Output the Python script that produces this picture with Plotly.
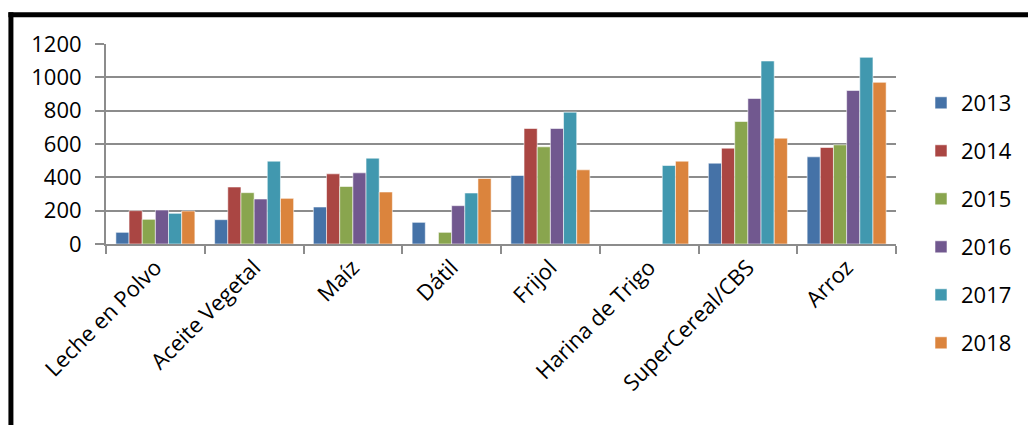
import plotly.graph_objects as go

# Categories and yearly series
categories = ["Leche en Polvo", "Aceite Vegetal", "Maíz", "Dátil", "Frijol",
              "Harina de Trigo", "SuperCereal/CBS", "Arroz"]
years = ["2013", "2014", "2015", "2016", "2017", "2018"]

v2013 = [70, 146, 222, 130, 411, None, 485, 523]
v2014 = [200, 342, 421, None, 693, None, 575, 579]
v2015 = [148, 308, 345, 70, 583, None, 735, 595]
v2016 = [204, 270, 427, 230, 693, None, 873, 921]
v2017 = [184, 497, 515, 306, 791, 471, 1098, 1120]
v2018 = [198, 274, 312, 393, 445, 497, 635, 970]

series = [v2013, v2014, v2015, v2016, v2017, v2018]
colors = ["#4572A7", "#AA4643", "#89A54E", "#71588F", "#4198AF", "#DB843D"]

y_ticks = [0, 200, 400, 600, 800, 1000, 1200]

W, H = 1028, 425
L, R, T, B = 106, 131, 44, 181
PW, PH = W - L - R, H - T - B

def px_x(p):
    return (p - L) / PW

def px_y(p):
    return (H - B - p) / PH

fig = go.Figure()
for i, (yr, vals, col) in enumerate(zip(years, series, colors)):
    fig.add_trace(go.Bar(
        x=categories, y=vals, name=yr,
        marker=dict(color=col, line=dict(color="rgba(255,255,255,0.55)", width=1)),
        legendgroup=yr,
    ))

font_family = "Open Sans, Lato, sans-serif"
txt = dict(family=font_family, size=22, color="black")

fig.update_layout(
    width=W, height=H,
    margin=dict(l=L, r=R, t=T, b=B, pad=0),
    paper_bgcolor="white", plot_bgcolor="white",
    barmode="group", bargap=0.2, bargroupgap=0,
    font=txt,
    showlegend=True,
    legend=dict(
        x=px_x(921), xanchor="left", y=px_y(82), yanchor="top",
        font=txt,
        tracegroupgap=16.4, bgcolor="rgba(0,0,0,0)",
        maxheight=400,
    ),
    xaxis=dict(
        type="category", tickangle=-45, tickson="boundaries",
        ticks="outside", ticklen=8, tickwidth=2, tickcolor="#8c8c8c",
        showline=True, linecolor="#8c8c8c", linewidth=2,
        showgrid=False, tickfont=txt,
    ),
    yaxis=dict(
        range=[0, 1200], tickvals=y_ticks,
        ticks="outside", ticklen=9, tickwidth=2, tickcolor="#8c8c8c",
        showline=True, linecolor="#8c8c8c", linewidth=2,
        showgrid=True, gridcolor="#8c8c8c", gridwidth=2,
        zeroline=False, tickfont=txt,
        ticklabelstandoff=9,
    ),
    shapes=[
        # black frame: top and left edges
        dict(type="rect", xref="paper", yref="paper",
             x0=px_x(8.3), x1=px_x(1035), y0=px_y(12.3), y1=px_y(17.3),
             fillcolor="black", line=dict(width=0), layer="above"),
        dict(type="rect", xref="paper", yref="paper",
             x0=px_x(8.3), x1=px_x(13.3), y0=px_y(12.3), y1=px_y(440),
             fillcolor="black", line=dict(width=0), layer="above"),
    ],
)

fig.write_html("out.html")
